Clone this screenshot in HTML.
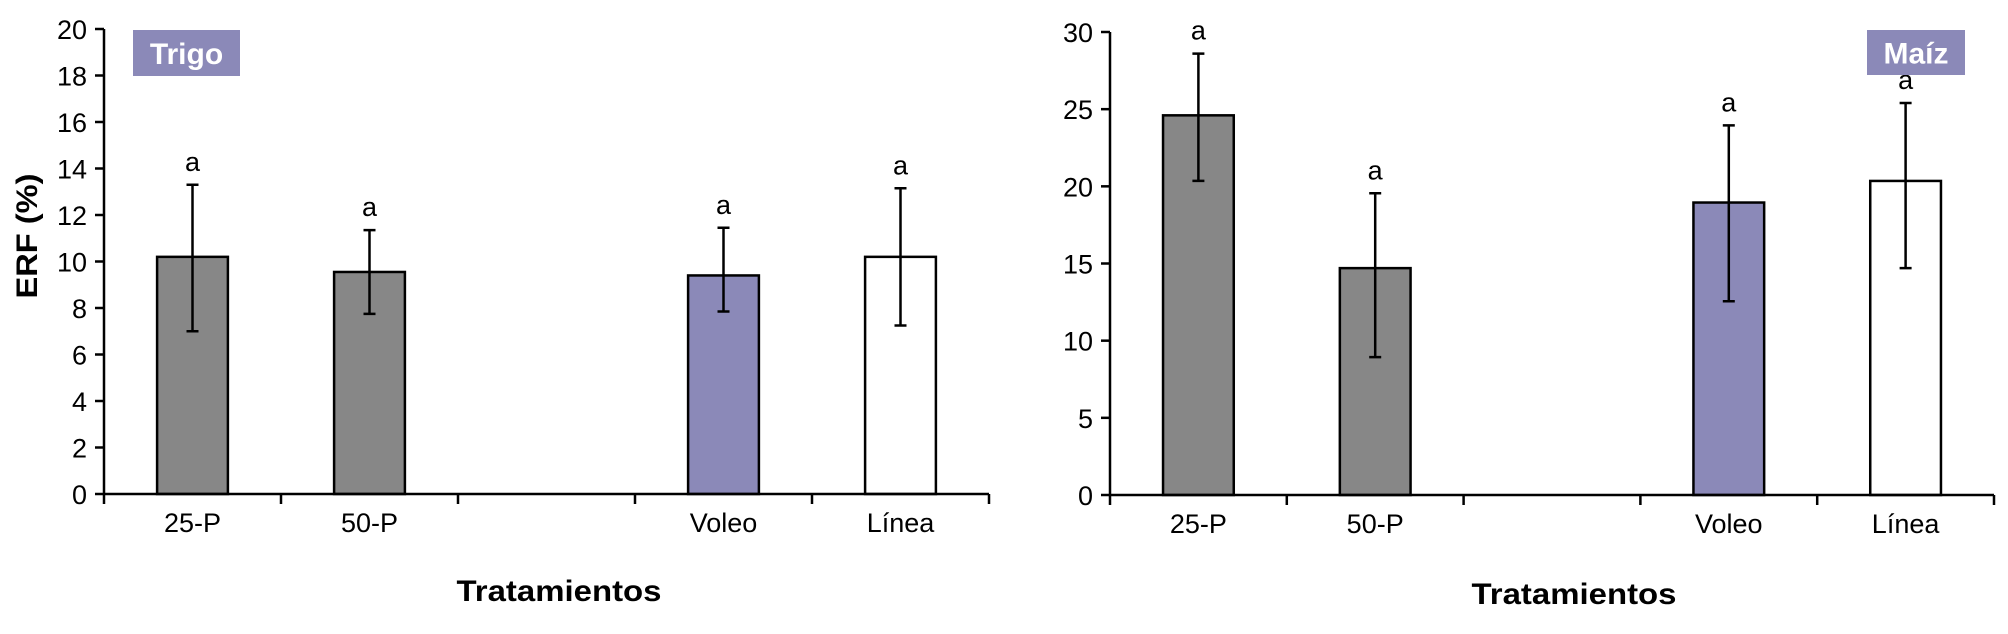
<!DOCTYPE html>
<html><head><meta charset="utf-8"><style>
html,body{margin:0;padding:0;background:#fff;width:2008px;height:634px;overflow:hidden}
svg{display:block;font-family:"Liberation Sans",Arial,sans-serif}
.lbl{font-family:"Liberation Sans Narrow","Liberation Sans",Arial,sans-serif}
</style></head><body>
<svg id="svg" width="2008" height="634" viewBox="0 0 2008 634"></svg>
<script>
const categories = ["25-P","50-P","","Voleo","Línea"];
const trigoValues = [10.2, 9.55, null, 9.4, 10.2];
const trigoErrHi = [13.3, 11.35, null, 11.45, 13.15];
const trigoErrLo = [7.0, 7.75, null, 7.85, 7.25];
const trigoLetters = ["a","a",null,"a","a"];
const trigoTicks = [0,2,4,6,8,10,12,14,16,18,20];
const maizValues = [24.6, 14.7, null, 18.95, 20.35];
const maizErrHi = [28.6, 19.55, null, 23.95, 25.4];
const maizErrLo = [20.35, 8.93, null, 12.55, 14.7];
const maizLetters = ["a","a",null,"a","a"];
const maizTicks = [0,5,10,15,20,25,30];
const barColors = ["#878787","#878787",null,"#8b89b8","#ffffff"];

const NS = "http://www.w3.org/2000/svg";
const svg = document.getElementById('svg');
function mk(tag, attrs, parent){
  const e = document.createElementNS(NS, tag);
  for (const k in attrs) e.setAttribute(k, attrs[k]);
  (parent||svg).appendChild(e);
  return e;
}

function drawChart(cfg){
  const g = mk('g', {});
  
  
  const yScale = v => cfg.y0 - (v - cfg.min) / (cfg.max - cfg.min) * (cfg.y0 - cfg.yTop);
  const catW = (cfg.x1 - cfg.x0) / categories.length;
  const xCenter = i => cfg.x0 + catW * (i + 0.5);
  cfg.ticks.forEach(t => {
    const y = yScale(t);
    const l = mk('line', {x1: cfg.x0 - 9, x2: cfg.x0, y1: y, y2: y, stroke: '#000', 'stroke-width': 2.5}, g);
    
    
    const tx = mk('text', {x: cfg.x0 - 17, y: y + 10, 'text-anchor': 'end', 'font-size': 27, fill: '#000', class: 'lbl'}, g);
    tx.textContent = t;
    
    
  });
  categories.forEach((c, i) => {
    const v = cfg.values[i];
    if (v !== null) {
      const bw = catW * 0.4;
      const r = mk('rect', {x: xCenter(i) - bw/2, y: yScale(v), width: bw, height: yScale(cfg.min) - yScale(v), fill: barColors[i], stroke: '#000', 'stroke-width': 2.5}, g);
      
      
      const hi = yScale(cfg.errHi[i]), lo = yScale(cfg.errLo[i]), xc = xCenter(i);
      const eb = mk('path', {d: `M${xc},${hi}V${lo}M${xc-6},${hi}H${xc+6}M${xc-6},${lo}H${xc+6}`, stroke: '#000', 'stroke-width': 2.5, fill: 'none'}, g);
      
      
      const lt = mk('text', {x: xc, y: hi - 14, 'text-anchor': 'middle', 'font-size': 27, fill: '#000', class: 'lbl'}, g);
      lt.textContent = cfg.letters[i];
      
      
    }
    if (c) {
      const xl = mk('text', {x: xCenter(i), y: cfg.y0 + 38, 'text-anchor': 'middle', 'font-size': 27, fill: '#000', class: 'lbl'}, g);
      xl.textContent = c;
      
      
    }
  });
  for (let i = 0; i <= categories.length; i++) {
    const x = cfg.x0 + catW * i;
    const l = mk('line', {x1: x, x2: x, y1: cfg.y0, y2: cfg.y0 + 10, stroke: '#000', 'stroke-width': 2.5}, g);
    
    
  }
  const ax = mk('path', {d: `M${cfg.x0},${cfg.yTop}V${cfg.y0}H${cfg.x1}`, stroke: '#000', 'stroke-width': 2.5, fill: 'none'}, g);
  
  
  const b = mk('rect', {x: cfg.box[0], y: cfg.box[1], width: cfg.box[2], height: cfg.box[3], fill: '#8b89b8'}, g);
  
  
  const bt = mk('text', {x: cfg.box[0] + cfg.box[2]/2, y: cfg.box[1] + cfg.box[3]/2 + 11, 'text-anchor': 'middle', 'font-size': 30, 'font-weight': 'bold', fill: '#fff'}, g);
  bt.textContent = cfg.title;
  
  
  const xt = mk('text', {x: cfg.xtX, y: cfg.xtY + 11, 'text-anchor': 'middle', 'font-size': 30, 'font-weight': 'bold', fill: '#000', textLength: 205, lengthAdjust: 'spacingAndGlyphs'}, g);
  xt.textContent = 'Tratamientos';
  
  
}

drawChart({name:'trigo-chart', x0:104, x1:989, y0:494, yTop:29, min:0, max:20, ticks:trigoTicks,
  values:trigoValues, errHi:trigoErrHi, errLo:trigoErrLo, letters:trigoLetters,
  box:[133,30,107,46], title:'Trigo', xtX:559, xtY:590});
drawChart({name:'maiz-chart', x0:1110, x1:1994, y0:495, yTop:32, min:0, max:30, ticks:maizTicks,
  values:maizValues, errHi:maizErrHi, errLo:maizErrLo, letters:maizLetters,
  box:[1867,30,98,45], title:'Maíz', xtX:1574, xtY:593});

const yl = mk('text', {x: 0, y: 0, transform: 'translate(37,236) rotate(-90)', 'text-anchor': 'middle', 'font-size': 30, 'font-weight': 'bold', fill: '#000', textLength: 125, lengthAdjust: 'spacingAndGlyphs'});
yl.textContent = 'ERF (%)';


</script>
</body></html>
